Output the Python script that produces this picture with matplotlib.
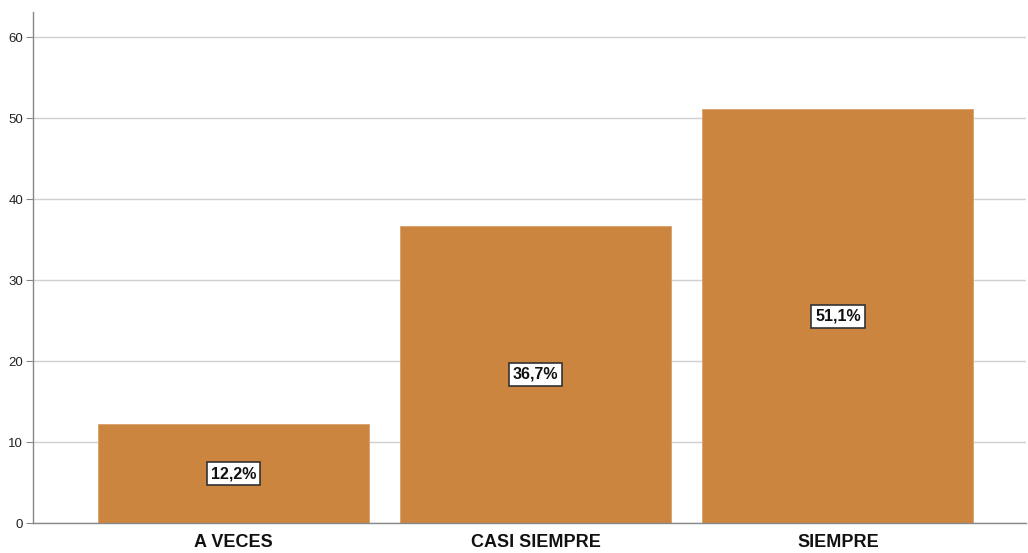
import matplotlib.pyplot as plt

categories = ["A VECES", "CASI SIEMPRE", "SIEMPRE"]
percents = [12.2, 36.7, 51.1]
yticks = [0, 10, 20, 30, 40, 50, 60]

plt.rcParams["font.family"] = ["Liberation Sans", "DejaVu Sans"]

fig = plt.figure(figsize=(10.28, 5.53), dpi=100)
ax = fig.add_axes([0.0321, 0.0542, 0.966, 0.9241])

x = list(range(len(categories)))
ax.bar(x, percents, width=0.897, color="#cc853f", edgecolor="#d9a06a",
       linewidth=0.6, zorder=2)

for xi, p in zip(x, percents):
    ax.text(xi, p / 2, f"{p:.1f}%".replace(".", ","), ha="center", va="center",
            fontsize=11.5, fontweight="bold", color="#111111", zorder=3,
            bbox=dict(boxstyle="square,pad=0.25", facecolor="white",
                      edgecolor="#333333", linewidth=1.2))

ax.set_xlim(-0.664, 2.623)
ax.set_ylim(0, 63.1)
ax.set_yticks(yticks)
ax.set_xticks(x)
ax.set_xticklabels(categories, fontsize=13, fontweight="bold", color="#111111")
ax.tick_params(axis="y", labelsize=9.5, colors="#222222", length=5, width=0.8,
               direction="out", pad=2)
ax.tick_params(axis="y", color="#888888")
ax.tick_params(axis="x", length=0, pad=8)
ax.yaxis.grid(True, color="#d0d0d0", linewidth=1, zorder=0)
ax.set_axisbelow(True)

for side in ["top", "right"]:
    ax.spines[side].set_visible(False)
for side in ["left", "bottom"]:
    ax.spines[side].set_color("#888888")
    ax.spines[side].set_linewidth(1)

plt.savefig("out.png", dpi=100)
